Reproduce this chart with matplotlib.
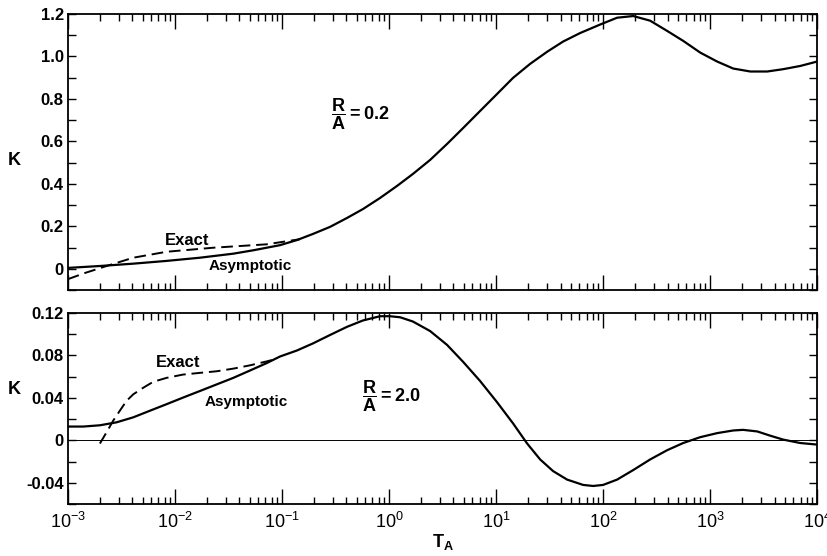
import numpy as np
import matplotlib
matplotlib.use("Agg")
from matplotlib import pyplot as plt
from matplotlib.ticker import MultipleLocator, LogLocator, NullFormatter

#
# Values (T_A, K)
#
# top panel, R/A = 0.2
t_top_asym = [0.001, 0.00199, 0.00408, 0.00836, 0.0171, 0.0351, 0.054, 0.0719,
              0.0957, 0.138, 0.195, 0.281, 0.405, 0.571, 0.824, 1.19, 1.67,
              2.42, 3.48, 4.92, 7.08, 10.2, 14.4, 20.8, 30.0, 42.3, 61.0, 93.8,
              135, 191, 275, 396, 560, 807, 1160, 1640, 2370, 3410, 4810,
              6930, 10000]
k_top_asym = [0.005, 0.014, 0.025, 0.038, 0.053, 0.072, 0.088, 0.100, 0.112,
              0.136, 0.165, 0.198, 0.24, 0.282, 0.334, 0.391, 0.447, 0.513,
              0.588, 0.663, 0.743, 0.823, 0.899, 0.965, 1.022, 1.07, 1.11,
              1.15, 1.182, 1.19, 1.168, 1.12, 1.073, 1.018, 0.976, 0.943,
              0.929, 0.929, 0.94, 0.955, 0.976]
t_top_exact = [0.001, 0.00144, 0.0023, 0.00408, 0.00836, 0.0228, 0.0719, 0.147]
k_top_exact = [-0.048, -0.019, 0.014, 0.053, 0.081, 0.10, 0.116, 0.14]

# bottom panel, R/A = 2.0
t_bot_asym = [0.001, 0.00139, 0.00199, 0.00285, 0.00408, 0.00583, 0.00836,
              0.0119, 0.0171, 0.0245, 0.0351, 0.0502, 0.0719, 0.0957, 0.138,
              0.195, 0.281, 0.405, 0.571, 0.824, 1.02, 1.27, 1.67, 2.42, 3.48,
              4.92, 7.08, 10.2, 14.4, 19.5, 25.8, 34.1, 46.1, 65.0, 80.7, 100,
              135, 191, 275, 396, 560, 807, 1160, 1640, 2030, 2750, 3640, 4810,
              6930, 10000]
k_bot_asym = [0.013, 0.013, 0.0142, 0.017, 0.0217, 0.0279, 0.0341, 0.0403,
              0.0465, 0.0527, 0.0589, 0.0658, 0.0728, 0.079, 0.0847, 0.0914,
              0.0993, 0.107, 0.113, 0.117, 0.117, 0.116, 0.112, 0.103, 0.090,
              0.074, 0.056, 0.036, 0.016, -0.003, -0.018, -0.029, -0.037,
              -0.042, -0.043, -0.042, -0.037, -0.028, -0.018, -0.0093,
              -0.0025, 0.003, 0.0068, 0.0093, 0.0099, 0.0084, 0.0044, 0.0007,
              -0.0025, -0.004]
t_bot_exact = [0.00199, 0.0023, 0.00265, 0.00306, 0.00353, 0.00408, 0.00506,
               0.00627, 0.00836, 0.0119, 0.0171, 0.0245, 0.0351, 0.0502,
               0.0719, 0.0893]
k_bot_exact = [-0.003, 0.0077, 0.0186, 0.028, 0.0372, 0.0434, 0.0496, 0.0552,
               0.0589, 0.062, 0.0636, 0.0651, 0.0676, 0.0707, 0.0744, 0.0769]

plt.rcParams['font.family'] = ['Liberation Sans', 'DejaVu Sans']
plt.rcParams['mathtext.fontset'] = 'custom'
plt.rcParams['mathtext.rm'] = 'Liberation Sans'
plt.rcParams['mathtext.bf'] = 'Liberation Sans:bold'

fig = plt.figure(figsize=(8.28, 5.56), dpi=100)
ax1 = fig.add_axes([0.082, 0.478, 0.905, 0.497])
ax2 = fig.add_axes([0.082, 0.0935, 0.905, 0.3435])


def style(ax, ymaj, ymin):
    ax.set_xscale('log')
    ax.set_xlim(1e-3, 1e4)
    ax.xaxis.set_major_locator(LogLocator(base=10, numticks=20))
    ax.xaxis.set_minor_locator(LogLocator(base=10, subs=np.arange(2, 10), numticks=20))
    ax.xaxis.set_minor_formatter(NullFormatter())
    ax.yaxis.set_major_locator(MultipleLocator(ymaj))
    ax.yaxis.set_minor_locator(MultipleLocator(ymin))
    ax.tick_params(which='both', direction='in', top=True, right=True, width=1.0)
    ax.tick_params(which='major', axis='x', length=11, pad=6, labelsize=13)
    ax.tick_params(which='minor', axis='x', length=5)
    ax.tick_params(which='both', axis='y', length=6, pad=3, labelsize=12)
    for s in ax.spines.values():
        s.set_linewidth(1.3)


# top panel
style(ax1, 0.2, 0.1)
ax1.set_ylim(-0.1, 1.2)
ax1.plot(t_top_asym, k_top_asym, color='black', lw=1.6)
ax1.plot(t_top_exact, k_top_exact, color='black', lw=1.4, ls=(0, (6, 3)))
ax1.set_yticks([0, 0.2, 0.4, 0.6, 0.8, 1.0, 1.2])
ax1.set_yticklabels(['0', '0.2', '0.4', '0.6', '0.8', '1.0', '1.2'], fontweight='bold')
ax1.tick_params(axis='x', labelbottom=False)
ax1.set_ylabel('K', rotation=0, fontsize=13, fontweight='bold', va='center')
ax1.yaxis.set_label_coords(-0.071, 0.47)
ax1.text(0.013, 0.135, 'Exact', fontsize=12, fontweight='bold', ha='center', va='center')
ax1.text(0.05, 0.012, 'Asymptotic', fontsize=11, fontweight='bold', ha='center', va='center')
ax1.text(0.29, 0.73, r'$\mathbf{\dfrac{R}{A}=0.2}$', fontsize=13, ha='left', va='center')

# bottom panel
style(ax2, 0.04, 0.02)
ax2.set_ylim(-0.06, 0.12)
ax2.axhline(0, color='black', lw=0.7)
ax2.plot(t_bot_asym, k_bot_asym, color='black', lw=1.6)
ax2.plot(t_bot_exact, k_bot_exact, color='black', lw=1.4, ls=(0, (6, 3)))
ax2.set_yticks([-0.04, 0, 0.04, 0.08, 0.12])
ax2.set_yticklabels(['-0.04', '0', '0.04', '0.08', '0.12'], fontweight='bold')
ax2.set_ylabel('K', rotation=0, fontsize=13, fontweight='bold', va='center')
ax2.yaxis.set_label_coords(-0.071, 0.60)
ax2.text(0.0107, 0.073, 'Exact', fontsize=12, fontweight='bold', ha='center', va='center')
ax2.text(0.046, 0.036, 'Asymptotic', fontsize=11, fontweight='bold', ha='center', va='center')
ax2.text(0.56, 0.042, r'$\mathbf{\dfrac{R}{A}=2.0}$', fontsize=13, ha='left', va='center')
ax2.set_xlabel(r'$\mathbf{T_A}$', fontsize=13, labelpad=0)

plt.savefig('out.png', dpi=100)
